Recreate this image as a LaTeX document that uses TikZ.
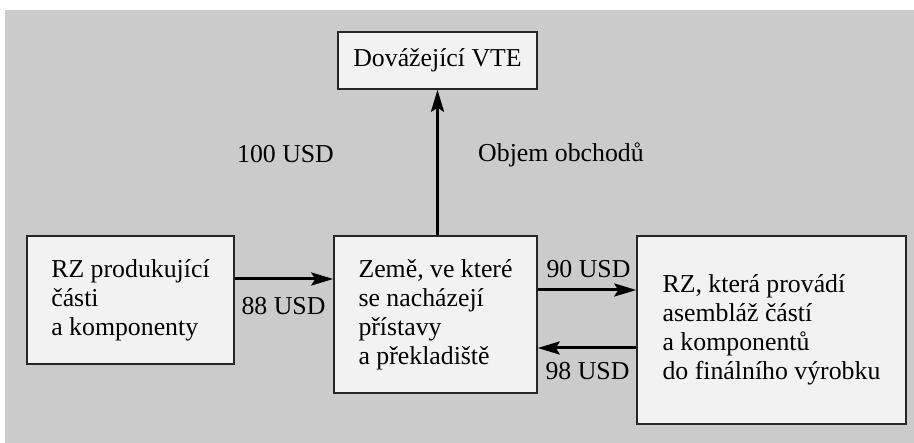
\documentclass[tikz,border=0pt]{standalone}
\usepackage{fontspec}
\setmainfont{Liberation Serif}
\newfontfamily\tnrfont{Liberation Serif}
\usetikzlibrary{arrows.meta}
\definecolor{bg}{HTML}{CBCBCB}
\definecolor{boxfill}{HTML}{F2F2F2}
\begin{document}
\begin{tikzpicture}[x=1pt,y=-1pt,
  box/.style={draw=black!85, line width=1.5pt, fill=boxfill, align=left, inner sep=0pt, font=\tnrfont\fontsize{25.8pt}{29pt}\selectfont},
  flow/.style={line width=3pt, -{Stealth[length=22pt,width=13pt,inset=4pt]}},
  lbl/.style={font=\tnrfont\fontsize{25.8pt}{29pt}\selectfont, inner sep=0pt, anchor=base}]
\useasboundingbox (0,0) rectangle (914,443);
\fill[white] (0,0) rectangle (914,443);
\fill[bg] (5,10) rectangle (914,443);
\node[box, minimum width=199pt, minimum height=57pt] (top) at (437.5,60.5) {Dovážející VTE};
\node[box, minimum width=207pt, minimum height=128pt] (left) at (130.5,300) {RZ produkující\\části\\a komponenty};
\node[box, minimum width=203pt, minimum height=157pt] (mid) at (435.5,314.5) {Země, ve které\\se nacházejí\\přístavy\\a překladiště};
\node[box, minimum width=269pt, minimum height=188pt] (right) at (771.5,330) {RZ, která provádí\\asembláž částí\\a komponentů\\do finálního výrobku};
\draw[flow] (top.south |- mid.north) -- (top.south);
\draw[flow] ([yshift=21pt]left.east) -- ([yshift=21pt]left.east -| mid.west);
\draw[flow] ([yshift=24.5pt]mid.east) -- ([yshift=24.5pt]mid.east -| right.west);
\draw[flow] ([yshift=-18pt]right.west) -- ([yshift=-18pt]right.west -| mid.east);
\node[lbl] (l100) at (285.5,163) {100 USD};
\node[lbl] (lobj) at (561,162) {Objem obchodů};
\node[lbl] (l88) at (283.5,315) {88 USD};
\node[lbl] (l90) at (588.5,278) {90 USD};
\node[lbl] (l98) at (587.5,380) {98 USD};
\end{tikzpicture}
\end{document}
